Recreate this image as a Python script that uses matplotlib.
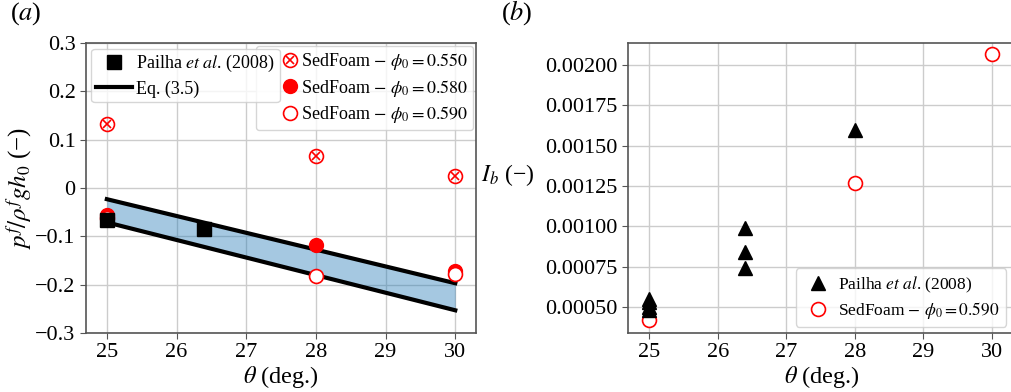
import matplotlib
matplotlib.use("Agg")
import matplotlib.pyplot as plt
from matplotlib.legend_handler import HandlerTuple
from matplotlib.lines import Line2D

plt.rcParams["font.family"] = ["Liberation Serif", "DejaVu Serif"]
plt.rcParams["mathtext.fontset"] = "stix"

# ---- Panel (a): dimensionless pore pressure ----
theta_eq = [25.0, 30.0]
eq_upper = [-0.023, -0.197]
eq_lower = [-0.071, -0.253]

theta_pailha_a = [25.0, 26.4]
p_pailha = [-0.067, -0.085]

theta_sed = [25.0, 28.0, 30.0]
p_sed_550 = [0.133, 0.067, 0.026]
p_sed_580 = [-0.055, -0.118, -0.172]
p_sed_590 = [-0.063, -0.183, -0.178]

# ---- Panel (b): inertial number ----
theta_pailha_b = [25.0, 25.0, 25.0, 25.0, 26.4, 26.4, 26.4, 28.0]
ib_pailha = [0.00048, 0.00050, 0.00053, 0.00055, 0.00099, 0.00084, 0.00074, 0.00160]
ib_sed_590 = [0.00042, 0.00127, 0.00207]

yticks_a = [-0.3, -0.2, -0.1, 0.0, 0.1, 0.2, 0.3]
yticklabels_a = ["\u22120.3", "\u22120.2", "\u22120.1", "0", "0.1", "0.2", "0.3"]
xticks = [25, 26, 27, 28, 29, 30]
yticks_b = [0.0005, 0.00075, 0.001, 0.00125, 0.0015, 0.00175, 0.002]

pailha_label = r"Pailha $\mathit{et\ al}$. (2008)"

fig = plt.figure(figsize=(10.11, 3.92), dpi=100)
ax1 = fig.add_axes([0.085, 0.1505, 0.386, 0.7395])
ax2 = fig.add_axes([0.621, 0.1505, 0.384, 0.7395])

red = "#ff0000"
ms = 10
tick_fs = 16
leg_fs = 13
for ax in (ax1, ax2):
    ax.grid(True, color="#cccccc", linewidth=1.0, zorder=0)
    ax.set_axisbelow(True)
    for s in ax.spines.values():
        s.set_color("#555555")
        s.set_linewidth(1.2)
    ax.tick_params(labelsize=tick_fs, color="#555555", length=4)
    ax.set_xticks(xticks)
    ax.set_xlabel(r"$\theta$ (deg.)", fontsize=17.5, labelpad=1)

# Panel (a)
ax1.fill_between(theta_eq, eq_lower, eq_upper, color="tab:blue", alpha=0.4,
                 linewidth=0, zorder=2)
ax1.plot(theta_eq, eq_upper, color="k", lw=3, zorder=3)
ax1.plot(theta_eq, eq_lower, color="k", lw=3, zorder=3)

ax1.plot(theta_sed, p_sed_550, "o", ms=ms, mfc="none", mec=red, mew=1.2, zorder=4)
ax1.plot(theta_sed, p_sed_550, "x", ms=ms * 0.6, mec=red, mew=1.2, zorder=4)
ax1.plot(theta_sed, p_sed_580, "o", ms=ms, mfc=red, mec=red, zorder=4)
ax1.plot(theta_sed, p_sed_590, "o", ms=ms, mfc="white", mec=red, mew=1.2, zorder=4)
ax1.plot(theta_pailha_a, p_pailha, "s", ms=ms, color="k", zorder=5)

ax1.set_xlim(24.7, 30.3)
ax1.set_ylim(-0.3, 0.3)
ax1.set_yticks(yticks_a)
ax1.set_yticklabels(yticklabels_a)
ax1.set_ylabel("$p^f/\\rho^f g h_0$ (\u2212)", fontsize=18, labelpad=1)

h_pailha = Line2D([], [], marker="s", ls="none", ms=ms, color="k")
h_eq = Line2D([], [], color="k", lw=3)
h_550 = (Line2D([], [], marker="o", ls="none", ms=ms, mfc="none", mec=red, mew=1.2),
         Line2D([], [], marker="x", ls="none", ms=ms * 0.6, mec=red, mew=1.2))
h_580 = Line2D([], [], marker="o", ls="none", ms=ms, mfc=red, mec=red)
h_590 = Line2D([], [], marker="o", ls="none", ms=ms, mfc="white", mec=red, mew=1.2)
h_blank = Line2D([], [], ls="none")

# SedFoam legend: an empty leading column widens the box on its left side
leg_a2 = ax1.legend([h_blank, h_blank, h_blank, h_550, h_580, h_590],
                    ["", "", "",
                     r"SedFoam $-$ $\phi_0 = 0.550$",
                     r"SedFoam $-$ $\phi_0 = 0.580$",
                     r"SedFoam $-$ $\phi_0 = 0.590$"],
                    ncol=2, columnspacing=0.0,
                    handler_map={tuple: HandlerTuple(ndivide=1, pad=0)},
                    loc="upper right", fontsize=leg_fs, handlelength=1.0,
                    borderpad=0.3, labelspacing=0.3, handletextpad=0.1,
                    borderaxespad=0.15)
ax1.add_artist(leg_a2)
leg_a1 = ax1.legend([h_pailha, h_eq], [pailha_label, "Eq. (3.5)"],
                    loc="upper left", bbox_to_anchor=(0.0, 1.0), fontsize=leg_fs,
                    handlelength=2.0, borderpad=0.25, labelspacing=0.35,
                    handletextpad=0.25, borderaxespad=0.3)
leg_a1.set_zorder(leg_a2.get_zorder() + 1)

ax1.text(-0.195, 1.055, r"($a$)", transform=ax1.transAxes, fontsize=19,
         ha="left", va="bottom")

# Panel (b)
ax2.plot(theta_pailha_b, ib_pailha, "^", ms=ms, color="k", zorder=4,
         label=pailha_label)
ax2.plot(theta_sed, ib_sed_590, "o", ms=ms, mfc="white", mec=red, mew=1.2,
         zorder=3, label=r"SedFoam $-$ $\phi_0 = 0.590$")
ax2.set_xlim(24.69, 30.35)
ax2.set_ylim(0.00034, 0.002135)
ax2.set_yticks(yticks_b)
ax2.set_yticklabels([f"{v:.5f}" for v in yticks_b])
ax2.set_ylabel("$I_b$ (\u2212)", fontsize=17, rotation=0, ha="right", va="center")
ax2.yaxis.set_label_coords(-0.24, 0.545)
ax2.legend(loc="lower right", fontsize=12.5, handlelength=1.8,
           borderpad=0.35, labelspacing=0.3, handletextpad=0.3,
           bbox_to_anchor=(0.99, 0.0), borderaxespad=0.35)

ax2.text(-0.326, 1.055, r"($b$)", transform=ax2.transAxes, fontsize=19,
         ha="left", va="bottom")

fig.savefig("out.png", dpi=100)
